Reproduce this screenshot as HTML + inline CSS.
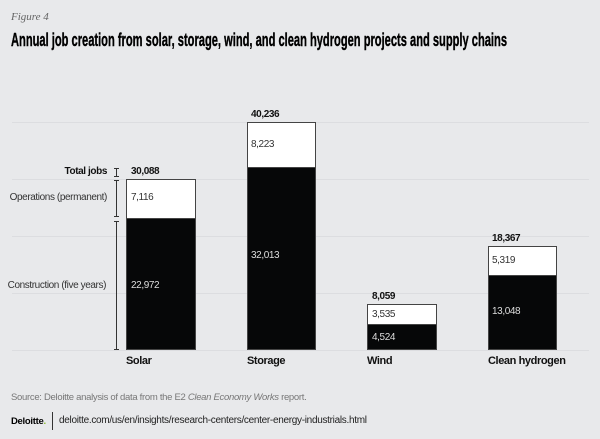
<!DOCTYPE html>
<html><head><style>
body{margin:0;width:600px;height:439px;background:#e8e9eb;position:relative;overflow:hidden;font-family:"Liberation Sans",sans-serif;}
.a{position:absolute;}
.g{position:absolute;left:12px;width:577px;height:1px;background:#dcdde0;}
.b{position:absolute;box-sizing:border-box;border:1px solid #444;}
.w{background:#fff;}
.k{background:#060708;}
.t{position:absolute;font-size:10px;letter-spacing:-0.4px;white-space:nowrap;}
.bold{font-weight:bold;color:#111;}
</style></head><body>
<div class="a" style="left:11px;top:11px;font-family:'Liberation Serif',serif;font-style:italic;font-size:11px;color:#666;">Figure 4</div>
<svg class="a" style="left:0;top:28px" width="600" height="24"><text x="11" y="18" font-family="Liberation Sans, sans-serif" font-weight="bold" font-size="18" textLength="496" lengthAdjust="spacingAndGlyphs" fill="#000" stroke="#000" stroke-width="0.4">Annual job creation from solar, storage, wind, and clean hydrogen projects and supply chains</text></svg>

<div class="g" style="top:122px"></div>
<div class="g" style="top:179px"></div>
<div class="g" style="top:236px"></div>
<div class="g" style="top:293px"></div>
<div class="g" style="top:350px"></div>

<div class="t bold" style="right:493px;top:166px;">Total jobs</div>
<div class="a" style="left:116px;top:168px;width:1px;height:9px;background:#333"></div>
<div class="a" style="left:114px;top:168px;width:5px;height:1px;background:#333"></div>
<div class="a" style="left:114px;top:176px;width:5px;height:1px;background:#333"></div>
<div class="a" style="left:116px;top:180px;width:1px;height:37px;background:#333"></div>
<div class="a" style="left:114px;top:180px;width:5px;height:1px;background:#333"></div>
<div class="a" style="left:114px;top:216px;width:5px;height:1px;background:#333"></div>
<div class="a" style="left:116px;top:221px;width:1px;height:129px;background:#333"></div>
<div class="a" style="left:114px;top:221px;width:5px;height:1px;background:#333"></div>
<div class="a" style="left:114px;top:349px;width:5px;height:1px;background:#333"></div>
<div class="t" style="right:493px;top:192px;color:#333;">Operations (permanent)</div>
<div class="t" style="right:494px;top:280px;color:#333;">Construction (five years)</div>

<div class="t bold" style="left:131px;top:166px;">30,088</div>
<div class="b w" style="left:126px;top:179px;width:70px;height:40px;"></div>
<div class="b k" style="left:126px;top:218px;width:70px;height:132px;"></div>
<div class="t" style="left:131px;top:192px;color:#333">7,116</div>
<div class="t" style="left:131px;top:280px;color:#ddd">22,972</div>
<div class="t bold" style="left:126px;top:355px;font-size:11px">Solar</div>

<div class="t bold" style="left:251px;top:109px;">40,236</div>
<div class="b w" style="left:247px;top:122px;width:69px;height:46px;"></div>
<div class="b k" style="left:247px;top:167px;width:69px;height:183px;"></div>
<div class="t" style="left:251px;top:139px;color:#333">8,223</div>
<div class="t" style="left:251px;top:250px;color:#ddd">32,013</div>
<div class="t bold" style="left:247px;top:355px;font-size:11px">Storage</div>

<div class="t bold" style="left:372px;top:291px;">8,059</div>
<div class="b w" style="left:367px;top:304px;width:70px;height:21px;"></div>
<div class="b k" style="left:367px;top:324px;width:70px;height:26px;"></div>
<div class="t" style="left:372px;top:309px;color:#333">3,535</div>
<div class="t" style="left:372px;top:332px;color:#ddd">4,524</div>
<div class="t bold" style="left:367px;top:355px;font-size:11px">Wind</div>

<div class="t bold" style="left:492px;top:233px;">18,367</div>
<div class="b w" style="left:488px;top:246px;width:69px;height:30px;"></div>
<div class="b k" style="left:488px;top:275px;width:69px;height:75px;"></div>
<div class="t" style="left:492px;top:255px;color:#333">5,319</div>
<div class="t" style="left:492px;top:306px;color:#ddd">13,048</div>
<div class="t bold" style="left:488px;top:355px;font-size:11px">Clean hydrogen</div>

<div class="a" style="left:11px;top:392px;font-size:9.5px;color:#777;letter-spacing:-0.3px;white-space:nowrap;">Source: Deloitte analysis of data from the E2 <i>Clean Economy Works</i> report.</div>
<div class="a" style="left:11px;top:416px;font-size:9.5px;font-weight:bold;color:#000;letter-spacing:-0.3px;">Deloitte<span style="color:#86bc25">.</span></div>
<div class="a" style="left:52px;top:412px;width:1px;height:18px;background:#333"></div>
<div class="a" style="left:59px;top:415px;font-size:10px;color:#222;letter-spacing:-0.3px;white-space:nowrap;">deloitte.com/us/en/insights/research-centers/center-energy-industrials.html</div>
</body></html>
